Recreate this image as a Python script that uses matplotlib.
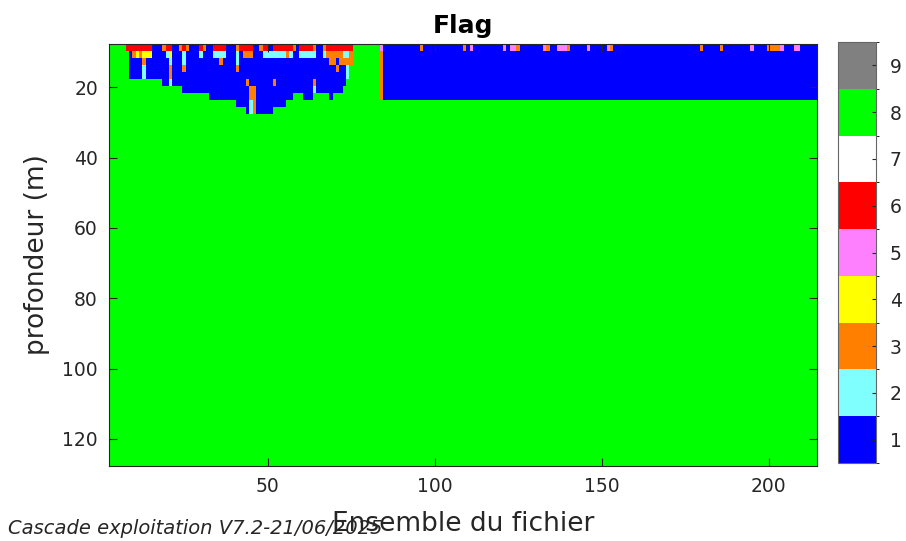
import numpy as np
import matplotlib.pyplot as plt
from matplotlib.colors import ListedColormap, BoundaryNorm

# ensembles and depth bins of the file
ens_first, ens_last = 3, 214
z_top, dz, n_bins = 7.7, 2.0, 60

# quality flag colours, flags 1..9
flag_colors = [
    (0.0, 0.0, 1.0),   # 1
    (0.5, 1.0, 1.0),   # 2
    (1.0, 0.5, 0.0),   # 3
    (1.0, 1.0, 0.0),   # 4
    (1.0, 0.5, 1.0),   # 5
    (1.0, 0.0, 0.0),   # 6
    (1.0, 1.0, 1.0),   # 7
    (0.0, 1.0, 0.0),   # 8
    (0.5, 0.5, 0.5),   # 9
]

# (first ens, last ens, number of bins from the surface flagged 1) - the rest is 8
good_runs = [
    (8, 8, 1), (9, 18, 5), (19, 24, 6), (25, 32, 7), (33, 40, 8),
    (41, 43, 9), (44, 51, 10), (52, 55, 9), (56, 57, 8), (58, 60, 7),
    (61, 63, 8), (64, 68, 7), (69, 69, 8), (70, 72, 7), (73, 73, 6),
    (74, 74, 5), (75, 75, 3), (84, 214, 8),
]

# (first ens, last ens, first bin, last bin, flag)
flag_cells = [
    # surface bin
    (8, 15, 0, 0, 6), (19, 19, 0, 0, 3), (20, 21, 0, 0, 6), (24, 24, 0, 0, 3),
    (25, 25, 0, 0, 6), (26, 26, 0, 0, 3), (30, 30, 0, 0, 6), (31, 31, 0, 0, 3),
    (34, 37, 0, 0, 6), (41, 41, 0, 0, 3), (42, 45, 0, 0, 6), (48, 48, 0, 0, 3),
    (49, 50, 0, 0, 6), (52, 57, 0, 0, 6), (58, 58, 0, 0, 3), (60, 63, 0, 0, 6),
    (64, 64, 0, 0, 3), (67, 67, 0, 0, 3), (68, 75, 0, 0, 6), (84, 84, 0, 0, 5),
    # second bin
    (10, 10, 1, 1, 3), (11, 11, 1, 1, 4), (12, 12, 1, 1, 3), (13, 15, 1, 1, 4),
    (20, 20, 1, 1, 2), (21, 21, 1, 1, 4), (25, 25, 1, 2, 2), (30, 30, 1, 1, 2),
    (34, 37, 1, 1, 2), (41, 41, 1, 2, 2), (43, 45, 1, 1, 3), (49, 55, 1, 1, 2),
    (56, 56, 1, 1, 3), (57, 57, 1, 1, 2), (60, 64, 1, 1, 2), (67, 67, 1, 1, 2),
    (68, 72, 1, 1, 3), (73, 74, 1, 1, 2), (75, 75, 1, 2, 3), (84, 84, 1, 7, 3),
    # deeper bins
    (13, 13, 2, 2, 3), (13, 13, 3, 4, 2), (21, 21, 2, 2, 2), (21, 21, 3, 4, 3),
    (21, 21, 5, 5, 2), (25, 25, 3, 3, 3), (36, 36, 2, 2, 3), (41, 41, 3, 3, 3),
    (44, 44, 5, 5, 3), (45, 46, 6, 9, 3), (45, 45, 8, 9, 2), (52, 52, 5, 5, 3),
    (64, 64, 5, 5, 3), (64, 64, 6, 6, 2), (69, 70, 2, 2, 3), (71, 71, 3, 3, 3),
    (72, 75, 2, 2, 3), (74, 74, 3, 4, 2),
]

# isolated surface flags after ensemble 84
surface_orange = [96, 109, 125, 134, 140, 153, 180, 186, 200, 201, 202, 203]
surface_pink = [111, 121, 123, 124, 133, 137, 138, 139, 146, 152, 195, 204, 208, 209]

ens = np.arange(ens_first, ens_last + 1)
flags = np.full((n_bins, ens.size), 8)
for c0, c1, nb in good_runs:
    flags[:nb, c0 - ens_first:c1 - ens_first + 1] = 1
for c0, c1, r0, r1, f in flag_cells:
    flags[r0:r1 + 1, c0 - ens_first:c1 - ens_first + 1] = f
for c in surface_orange:
    flags[0, c - ens_first] = 3
for c in surface_pink:
    flags[0, c - ens_first] = 5

x_edges = np.append(ens - 0.5, ens[-1] + 0.5)
z_edges = z_top + dz * np.arange(n_bins + 1)

cmap = ListedColormap(flag_colors)
norm = BoundaryNorm(np.arange(0.5, 10.5, 1.0), cmap.N)

W, H = 906, 541
fig = plt.figure(figsize=(W / 100, H / 100), dpi=100)
ax = fig.add_axes([109 / W, 1 - 466 / H, (817 - 109) / W, (466 - 44) / H])
mesh = ax.pcolormesh(x_edges, z_edges, flags, cmap=cmap, norm=norm)
ax.set_xlim(x_edges[0], x_edges[-1])
ax.set_ylim(z_edges[-1], z_edges[0])

tick_col = (0.15, 0.15, 0.15)
ax.set_xticks([50, 100, 150, 200])
ax.set_yticks([20, 40, 60, 80, 100, 120])
ax.tick_params(direction="in", length=6, width=0.8, colors=tick_col,
               labelsize=13.5, top=True, right=True, pad=8)
for s in ax.spines.values():
    s.set_color(tick_col)
    s.set_linewidth(0.8)

ax.set_xlabel("Ensemble du fichier", fontsize=19, color=tick_col, labelpad=11)
ax.set_ylabel("profondeur (m)", fontsize=19, color=tick_col, labelpad=9)
ax.set_title("Flag", fontsize=18, fontweight="bold", pad=8)

cax = fig.add_axes([838 / W, 1 - 463 / H, 38 / W, (463 - 42) / H])
cb = fig.colorbar(mesh, cax=cax, ticks=np.arange(1, 10))
cb.ax.tick_params(direction="in", length=3, width=0.8, colors=tick_col,
                  labelsize=13.5, pad=10)
cb.outline.set_edgecolor((0.4, 0.4, 0.4))

fig.text(8 / W, 1 - 528 / H, "Cascade exploitation V7.2-21/06/2025",
         fontsize=14, style="italic", color=tick_col, va="center", ha="left")

fig.savefig("out.png", dpi=100)
